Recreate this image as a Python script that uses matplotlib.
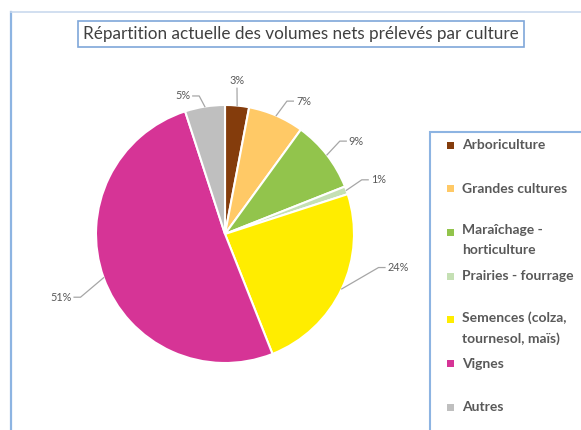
import numpy as np
import matplotlib.pyplot as plt
from matplotlib.patches import Rectangle
from matplotlib.lines import Line2D

categories = ["Arboriculture", "Grandes cultures", "Maraîchage -\nhorticulture",
              "Prairies - fourrage", "Semences (colza,\ntournesol, maïs)", "Vignes", "Autres"]
shares = [3, 7, 9, 1, 24, 51, 5]
colors = ["#843C0C", "#FFC966", "#92C44C", "#C5E0B4", "#FFED00", "#D63496", "#BFBFBF"]
title = "Répartition actuelle des volumes nets prélevés par culture"

# leader-line knee points (axes data units, pie radius = 1) and label side
label_knee = [(0.093, 1.13), (0.48, 1.03), (0.89, 0.72), (1.06, 0.42),
              (1.19, -0.26), (-1.12, -0.49), (-0.20, 1.07)]
label_side = ["t", "r", "r", "r", "r", "l", "l"]

W, H = 581, 430
fig = plt.figure(figsize=(W / 100, H / 100), dpi=100)
plt.rcParams["font.family"] = ["Lato", "DejaVu Sans"]

# outer frame lines (screenshot chart border)
fig.add_artist(Line2D([11 / W, 11 / W], [0, 1 - 12 / H], color="#8DB4E2", lw=1.6))
fig.add_artist(Line2D([11 / W, 1], [1 - 12 / H, 1 - 12 / H], color="#C9D9EE", lw=1.2))

# pie
cx, cy, r = 225, 234, 129
ax = fig.add_axes([(cx - r) / W, 1 - (cy + r) / H, 2 * r / W, 2 * r / H])
wedges, _ = ax.pie(shares, colors=colors, startangle=90, counterclock=False,
                   radius=1, wedgeprops=dict(edgecolor="white", linewidth=1.5))
ax.set_xlim(-1, 1)
ax.set_ylim(-1, 1)
ax.set_aspect("equal")
ax.axis("off")

hseg, gap = 0.05, 0.02
for w, v, (kx, ky), side in zip(wedges, shares, label_knee, label_side):
    mid = np.deg2rad((w.theta1 + w.theta2) / 2)
    ex, ey = np.cos(mid), np.sin(mid)
    if side == "t":
        ax.plot([ex, kx], [ey, ky], color="#A6A6A6", lw=0.9, clip_on=False)
        ax.text(kx, ky + gap, f"{v}%", ha="center", va="bottom",
                fontsize=7.8, color="#595959")
    else:
        s = 1 if side == "r" else -1
        ax.plot([ex, kx, kx + s * hseg], [ey, ky, ky], color="#A6A6A6", lw=0.9, clip_on=False)
        ax.text(kx + s * (hseg + gap), ky, f"{v}%", ha="left" if s > 0 else "right",
                va="center", fontsize=7.8, color="#595959")

# title box
fig.text(301 / W, 1 - 34 / H, title, ha="center", va="center", fontsize=12.3,
         color="#404040",
         bbox=dict(boxstyle="square,pad=0.3", facecolor="white", edgecolor="#7FA7D9", lw=1.2))

# legend box and entries
fig.add_artist(Rectangle((430 / W, -0.1), 0.5, 1 - 132 / H + 0.1, transform=fig.transFigure,
                         facecolor="none", edgecolor="#8DB4E2", lw=1.5))
step = 43.7
for i, (lab, col) in enumerate(zip(categories, colors)):
    y = 145 + i * step
    fig.add_artist(Rectangle((447 / W, 1 - (y + 3.5) / H), 7 / W, 7 / H,
                             transform=fig.transFigure, facecolor=col, edgecolor="none"))
    if "\n" in lab:
        fig.text(462 / W, 1 - (y - 8) / H, lab, ha="left", va="top",
                 fontsize=10, fontweight="bold", color="#595959", linespacing=1.75)
    else:
        fig.text(462 / W, 1 - y / H, lab, ha="left", va="center",
                 fontsize=10, fontweight="bold", color="#595959")

fig.savefig("out.png", dpi=100)
